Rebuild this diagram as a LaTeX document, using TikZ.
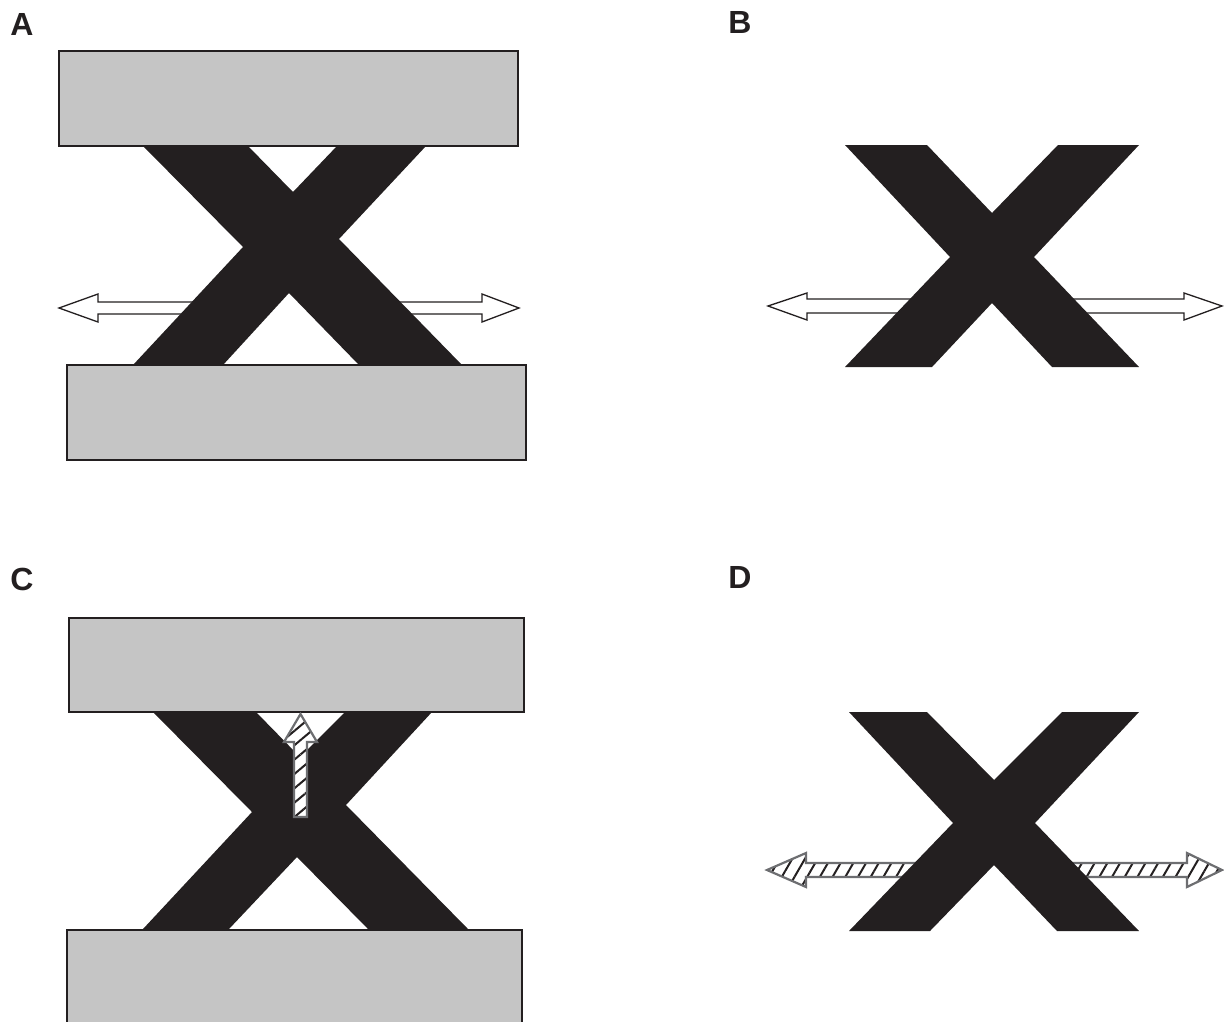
\documentclass[tikz,border=0pt]{standalone}
\usepackage{fontspec}
\setmainfont{Liberation Sans}
\usetikzlibrary{patterns.meta}
\definecolor{ink}{HTML}{231F20}
\definecolor{plate}{HTML}{C5C5C5}
\definecolor{rim}{HTML}{6D6E71}
\tikzset{
  cross/.style={fill=ink, draw=none},
  platebox/.style={fill=plate, draw=ink, line width=1.5pt},
  openarrow/.style={fill=white, draw=ink, line width=1.3pt, line join=miter},
  hatcharrow/.style={draw=rim, line width=2.2pt, line join=miter,
    preaction={fill=white}, pattern color=ink},
  panel/.style={inner sep=0pt, font=\fontsize{32}{32}\selectfont\bfseries, text=ink}
}
\begin{document}
\begin{tikzpicture}[x=1pt, y=-1pt]
\useasboundingbox (0,0) rectangle (1224,1021);
\clip (0,0) rectangle (1224,1021);

% panel labels
\node[panel] (labA) at (22,24) {A};
\node[panel] (labB) at (740,22) {B};
\node[panel] (labC) at (22,579) {C};
\node[panel] (labD) at (740,577) {D};

% ---------- A: lateral double arrow, its two halves ending under the cross
\draw[openarrow] (59,308) -- (98,294) -- (98,302) -- (230,302) -- (230,314)
  -- (98,314) -- (98,322) -- cycle;
\draw[openarrow] (519,308) -- (482,294) -- (482,302) -- (355,302) -- (355,314)
  -- (482,314) -- (482,322) -- cycle;
\fill[cross] (143,146) -- (248,146) -- (293,192) -- (337,146) -- (426,146)
  -- (339,239) -- (462,365) -- (359,365) -- (289,293) -- (223,365)
  -- (133,365) -- (243,247) -- cycle;
\draw[platebox] (59,51) rectangle (518,146);
\draw[platebox] (67,365) rectangle (526,460);

% ---------- B: free cross with lateral double arrow
\draw[openarrow] (768,306) -- (807,293) -- (807,299) -- (950,299) -- (950,313)
  -- (807,313) -- (807,320) -- cycle;
\draw[openarrow] (1222,306) -- (1184,293) -- (1184,299) -- (1035,299) -- (1035,313)
  -- (1184,313) -- (1184,320) -- cycle;
\fill[cross] (845,145) -- (927,145) -- (992,213) -- (1058,145) -- (1139,145)
  -- (1034,257) -- (1139,367) -- (1052,367) -- (992,303) -- (932,367)
  -- (845,367) -- (950,257) -- cycle;

% ---------- C: cross between plates, vertical hatched arrow
\fill[cross] (153,712) -- (256,712) -- (300,757) -- (345,712) -- (432,712)
  -- (346,805) -- (468,929) -- (368,929) -- (297,857) -- (229,929)
  -- (143,929) -- (252,812) -- cycle;
\draw[platebox] (69,618) rectangle (524,712);
\draw[platebox] (67,930) rectangle (522,1040);
\draw[hatcharrow, pattern={Lines[angle=40, distance=11pt, line width=2pt]}]
  (300.5,714) -- (317,742) -- (307,742) -- (307,817) -- (294,817) -- (294,742)
  -- (284,742) -- cycle;

% ---------- D: free cross with hatched lateral double arrow
\draw[hatcharrow, pattern={Lines[angle=60, distance=11pt, line width=2pt]}]
  (767,870) -- (806,853) -- (806,863) -- (950,863) -- (950,877)
  -- (806,877) -- (806,887) -- cycle;
\draw[hatcharrow, pattern={Lines[angle=60, distance=11pt, line width=2pt]}]
  (1222,870) -- (1187,853) -- (1187,863) -- (1040,863) -- (1040,877)
  -- (1187,877) -- (1187,887) -- cycle;
\fill[cross] (849,712) -- (927,712) -- (994,780) -- (1062,712) -- (1139,712)
  -- (1035,823) -- (1139,931) -- (1057,931) -- (994,865) -- (930,931)
  -- (849,931) -- (953,823) -- cycle;
\end{tikzpicture}
\end{document}
